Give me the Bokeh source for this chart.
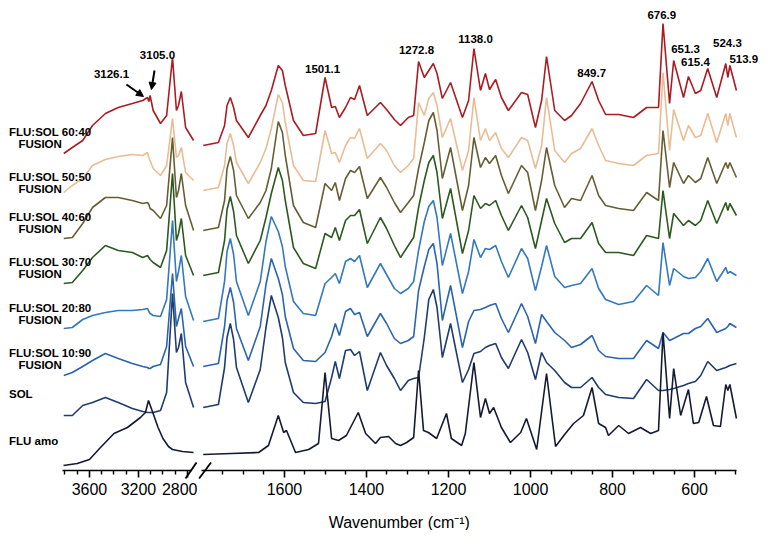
from bokeh.plotting import figure
from bokeh.layouts import row
from bokeh.models import Range1d, FixedTicker, Arrow, NormalHead
from bokeh.core.properties import value
from bokeh.embed import file_html
from bokeh.resources import INLINE
import numpy as np

# ---------------- data (intensities in arbitrary units) ----------------
series_names = ["FLU:SOL 60:40", "FLU:SOL 50:50", "FLU:SOL 40:60", "FLU:SOL 30:70",
                "FLU:SOL 20:80", "FLU:SOL 10:90", "SOL", "FLU amo"]
series_sub = ["FUSION", "FUSION", "FUSION", "FUSION", "FUSION", "FUSION", "", ""]
colors = ["#AA1C22", "#EABC94", "#655E34", "#2B5A1E", "#3478BE", "#2B64AE", "#1F3C6E", "#151A33"]
offsets = [325, 280, 240, 195, 149, 104, 63, 16]   # stacking offsets (a.u.)

# high-wavenumber window (cm-1), shared by the mixtures and SOL
wn_left = [3810, 3740, 3655, 3575, 3470, 3365, 3250, 3165, 3126, 3115, 3105, 3080,
           3020, 2970, 2922, 2890, 2873, 2850, 2815, 2750]
left_6040 = [-8, -2, 5, 20, 32, 38, 42, 45, 48, 44, 50, 35, 22, 30, 88, 35, 40, 54, 18, 5]
left_5050 = [-2, 5, 12, 25, 31, 34, 36, 35, 38, 33, 30, 22, 15, 25, 72, 33, 35, 43, 18, 10]
left_4060 = [-8, -7, 7, 23, 33, 33, 30, 27, 28, 26, 22, 20, 12, 25, 93, 33, 40, 57, 25, 0]
left_3070 = [-8, -7, 5, 18, 30, 25, 23, 18, 20, 18, 16, 13, 8, 25, 102, 35, 42, 57, 20, 0]
left_2080 = [-7, -6, 2, 6, 9, 11, 11, 12, 13, 10, 8, 6, 5, 22, 101, 40, 50, 66, 25, 1]
left_1090 = [-9, -6, 0, 6, 13, 8, 3, 0, -1, -2, -2, 0, 2, 20, 93, 40, 48, 58, 20, 0]
left_sol = [-8, -8, 2, 5, 10, 5, -1, -4, -5, -5, -5, -5, -3, 15, 114, 55, 60, 74, 25, 0]

# fingerprint window (cm-1), shared by the mixtures and SOL
wn_right = [1798, 1761, 1746, 1740, 1732, 1724, 1717, 1688, 1659, 1645,
            1632, 1615, 1605, 1598, 1578, 1554, 1524, 1501, 1485, 1476,
            1466, 1451, 1439, 1429, 1417, 1398, 1366, 1351, 1332, 1317,
            1298, 1285, 1273, 1259, 1248, 1237, 1228, 1215, 1195, 1166,
            1151, 1138, 1122, 1110, 1100, 1085, 1071, 1054, 1022, 1007,
            988, 973, 961, 941, 917, 900, 878, 850, 834, 817,
            785, 749, 717, 688, 677, 661, 651, 627, 615, 598,
            585, 568, 546, 524, 519, 514, 498]
right_6040 = [0, 3, 20, 40, 48, 38, 25, 8, 30, 40, 55, 80, 75, 60, 25, 10, 12, 68, 38, 39,
              28, 38, 48, 46, 60, 30, 43, 36, 26, 20, 28, 30, 84, 68, 75, 82, 72, 47, 63, 28,
              45, 97, 55, 72, 56, 66, 48, 35, 53, 51, 18, 45, 89, 35, 25, 30, 42, 64, 45, 31,
              31, 28, 38, 38, 122, 42, 85, 48, 69, 52, 55, 77, 48, 82, 68, 80, 55]
right_5050 = [0, 3, 25, 47, 57, 45, 28, 7, 28, 42, 62, 96, 88, 68, 25, 10, 9, 60, 37, 38,
              28, 45, 53, 52, 62, 32, 47, 40, 25, 18, 25, 32, 88, 75, 92, 98, 85, 53, 72, 20,
              40, 93, 50, 62, 50, 58, 42, 33, 53, 50, 22, 45, 93, 40, 28, 37, 42, 62, 45, 30,
              27, 25, 35, 37, 118, 40, 81, 50, 65, 53, 55, 77, 48, 77, 65, 77, 53]
right_4060 = [0, 3, 30, 62, 74, 60, 35, 12, 28, 40, 62, 109, 98, 75, 25, 8, 3, 47, 40, 48,
              30, 52, 60, 58, 64, 32, 53, 43, 28, 18, 28, 35, 62, 88, 110, 118, 100, 52, 83, 20,
              45, 93, 63, 73, 67, 75, 55, 37, 65, 58, 20, 50, 83, 45, 23, 32, 30, 55, 35, 25,
              22, 20, 38, 30, 100, 43, 68, 47, 55, 48, 52, 73, 47, 68, 62, 68, 53]
right_3070 = [0, 3, 35, 66, 79, 64, 40, 12, 35, 58, 82, 108, 95, 75, 28, 12, 7, 42, 38, 48,
              35, 55, 60, 60, 66, 32, 58, 47, 30, 18, 30, 38, 68, 95, 113, 120, 103, 57, 87, 22,
              45, 80, 67, 72, 70, 75, 60, 45, 70, 58, 27, 55, 77, 52, 33, 37, 37, 53, 32, 23,
              23, 20, 40, 37, 85, 37, 62, 50, 55, 50, 55, 75, 52, 73, 65, 72, 60]
right_2080 = [0, 3, 40, 70, 83, 67, 40, 6, 40, 80, 105, 90, 75, 55, 20, 8, 6, 38, 44, 48,
              38, 60, 63, 60, 66, 34, 58, 47, 33, 28, 33, 40, 71, 100, 115, 121, 104, 56, 88, 28,
              50, 82, 64, 73, 72, 76, 60, 44, 73, 63, 31, 55, 76, 45, 34, 36, 38, 53, 33, 22,
              17, 20, 36, 26, 79, 36, 53, 45, 43, 44, 50, 63, 40, 54, 48, 50, 46]
right_1090 = [0, 3, 40, 66, 79, 64, 38, 6, 40, 82, 108, 88, 72, 50, 18, 6, 5, 14, 30, 43,
              31, 55, 58, 52, 54, 30, 53, 43, 28, 23, 26, 30, 76, 100, 117, 123, 103, 46, 81, 19,
              45, 56, 57, 59, 61, 63, 48, 34, 63, 50, 23, 52, 45, 34, 26, 19, 22, 31, 16, 10,
              8, 8, 26, 18, 34, 26, 28, 33, 33, 38, 40, 48, 34, 38, 40, 43, 39]
right_sol = [0, 3, 40, 70, 84, 68, 40, 5, 38, 80, 112, 90, 70, 45, 15, 5, 4, 6, 30, 46,
             29, 57, 58, 52, 56, 17, 55, 42, 29, 17, 27, 29, 30, 70, 108, 118, 100, 50, 84, 25,
             38, 54, 56, 60, 62, 64, 50, 39, 68, 55, 28, 55, 45, 37, 25, 20, 20, 30, 20, 13,
             10, 9, 28, 17, 17, 18, 19, 22, 24, 26, 32, 46, 37, 40, 41, 42, 44]

# amorphous FLU has its own set of read points
wn_flu_left = [3812, 3700, 3600, 3510, 3400, 3290, 3184, 3143, 3118, 3086, 3040, 3000,
               2955, 2922, 2841, 2750]
left_flu = [-11, -9, -5, 7, 21, 27, 37, 42, 54, 43, 27, 16, 8, 5, 3, 2]
wn_flu_right = [1798, 1729, 1663, 1639, 1615, 1602, 1595, 1573, 1541, 1517, 1501, 1485, 1468,
                1449, 1420, 1402, 1378, 1366, 1346, 1329, 1317, 1302, 1285, 1273, 1261, 1249,
                1229, 1205, 1193, 1168, 1159, 1138, 1122, 1110, 1100, 1090, 1071, 1049, 1024,
                1010, 985, 961, 939, 915, 895, 871, 850, 834, 817, 810, 785, 761, 732, 707,
                688, 677, 661, 651, 634, 615, 603, 590, 571, 554, 537, 524, 519, 514, 498]
right_flu = [0, 1, 2, 9, 39, 22, 24, 2, 5, 11, 82, 16, 14, 19, 42, 21, 11, 17, 18, 11, 9, 12,
             17, 84, 24, 22, 16, 41, 16, 9, 21, 92, 37, 56, 41, 47, 27, 12, 22, 36, 5, 81, 8,
             21, 31, 39, 67, 31, 27, 19, 29, 21, 27, 21, 24, 122, 36, 86, 39, 65, 31, 32, 58,
             29, 28, 70, 64, 70, 36]

left_sets = [(wn_left, left_6040), (wn_left, left_5050), (wn_left, left_4060), (wn_left, left_3070),
             (wn_left, left_2080), (wn_left, left_1090), (wn_left, left_sol), (wn_flu_left, left_flu)]
right_sets = [(wn_right, right_6040), (wn_right, right_5050), (wn_right, right_4060),
              (wn_right, right_3070), (wn_right, right_2080), (wn_right, right_1090),
              (wn_right, right_sol), (wn_flu_right, right_flu)]

# peak annotations
peak_labels_right = ["1501.1", "1272.8", "1138.0", "849.7", "676.9", "651.3", "615.4", "524.3", "513.9"]

# axis ticks
left_major = [3600, 3200, 2800]
left_minor = [3800, 3700, 3500, 3400, 3300, 3100, 3000, 2900]
right_major = [1600, 1400, 1200, 1000, 800, 600]
right_minor = [1750, 1700, 1650, 1550, 1500, 1450, 1350, 1300, 1250, 1150, 1100, 1050,
               950, 900, 850, 750, 700, 650, 550, 500]

FONT = "Liberation Sans"
Y_TOP = 462
Y_BOTTOM = -60


def make_fig(xr, width, left_border, bounds, major, minor):
    p = figure(width=width, height=(Y_TOP - Y_BOTTOM) + 8, x_range=xr,
               y_range=Range1d(Y_BOTTOM, Y_TOP),
               output_backend="svg", toolbar_location=None, y_axis_location=None,
               min_border_left=left_border, min_border_right=0, min_border_top=8,
               min_border_bottom=0)
    p.outline_line_color = None
    p.grid.visible = False
    p.background_fill_color = "white"
    ax = p.xaxis[0]
    ax.fixed_location = 0
    ax.bounds = bounds
    ax.ticker = FixedTicker(ticks=major, minor_ticks=minor)
    ax.axis_line_width = 1.6
    ax.axis_line_color = "black"
    ax.major_tick_line_width = 1.6
    ax.minor_tick_line_width = 1.4
    ax.major_tick_out = 7
    ax.major_tick_in = 0
    ax.minor_tick_out = 4
    ax.minor_tick_in = 0
    ax.major_label_text_font = FONT
    ax.major_label_text_font_size = "16px"
    ax.major_label_text_color = "black"
    ax.major_label_standoff = 5
    return p


left = make_fig(Range1d(4261, 2718), 197, 8, (3820, 2770), left_major, left_minor)
right = make_fig(Range1d(1812, 432), 566, 0, (1802, 498), right_major, right_minor)

for i in range(len(series_names)):
    wl, vl = left_sets[i]
    wr, vr = right_sets[i]
    left.line(wl, np.array(vl) + offsets[i], line_color=colors[i], line_width=1.6)
    right.line(wr, np.array(vr) + offsets[i], line_color=colors[i], line_width=1.6)

# series labels
left.text(x=[4257] * len(series_names), y=[o + 14 for o in offsets], text=series_names,
          text_font=value(FONT), text_font_style="bold", text_font_size="11.5px",
          text_baseline="middle", text_align="left", text_color="black")
sub_idx = [i for i, s in enumerate(series_sub) if s]
left.text(x=[4180] * len(sub_idx), y=[offsets[i] + 2 for i in sub_idx],
          text=[series_sub[i] for i in sub_idx], text_font=value(FONT), text_font_style="bold",
          text_font_size="11.5px", text_baseline="middle", text_align="left", text_color="black")

# peak labels, high-wavenumber window
left.text(x=[3420, 3045], y=[397, 416], text=["3126.1", "3105.0"], text_font=value(FONT),
          text_font_style="bold", text_font_size="11.5px", text_baseline="middle",
          text_align="center", text_color="black")
left.add_layout(Arrow(end=NormalHead(size=7, fill_color="black", line_color="black"),
                      x_start=3298, y_start=386, x_end=3159, y_end=374,
                      line_width=2, line_color="black"))
left.add_layout(Arrow(end=NormalHead(size=7, fill_color="black", line_color="black"),
                      x_start=3069, y_start=400, x_end=3094, y_end=381,
                      line_width=2, line_color="black"))

# peak labels, fingerprint window
lab_rx = [1507, 1278, 1134, 851, 680, 622, 598, 520, 480]
lab_ry = [402, 421, 432, 398, 456, 422, 409, 428, 412]
right.text(x=lab_rx, y=lab_ry, text=peak_labels_right, text_font=value(FONT),
           text_font_style="bold", text_font_size="11.5px", text_baseline="middle",
           text_align="center", text_color="black")

# axis break marks
left.segment(x0=[2816], y0=[-8], x1=[2726], y1=[8], line_width=1.8, line_color="black")
right.segment(x0=[1808], y0=[-8], x1=[1779], y1=[8], line_width=1.8, line_color="black")

# axis title, centred under the whole (broken) axis
right.text(x=[1320], y=[-52], text=["Wavenumber (cm⁻¹)"], text_font=value(FONT),
           text_font_size="16px", text_baseline="middle", text_align="center",
           text_color="black")

layout = row(left, right, spacing=0)
open("out.html", "w").write(file_html(layout, INLINE))
